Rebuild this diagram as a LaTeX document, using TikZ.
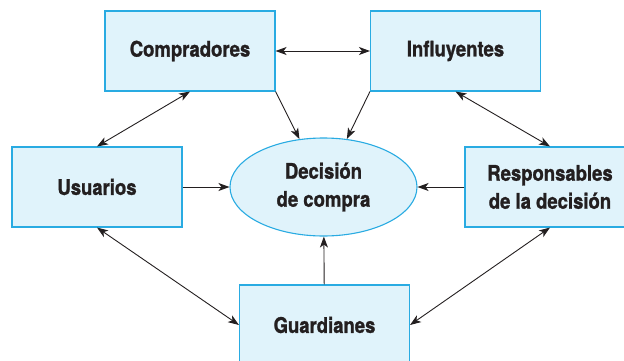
\documentclass[tikz,border=0pt]{standalone}
\usepackage{fontspec}
\setmainfont{TeX Gyre Heros}[FakeStretch=0.86, BoldFeatures={FakeBold=1.2}]
\usepackage{xcolor}
\usetikzlibrary{arrows.meta,shapes,positioning,calc}
\definecolor{boxfill}{HTML}{E0F3FB}
\definecolor{boxline}{HTML}{29ABE2}
\definecolor{arrowcol}{HTML}{231F20}

\begin{document}
\begin{tikzpicture}[x = 1pt, y = -1pt,
    role/.style = {draw = boxline, fill = boxfill, line width = 1.1pt, rectangle,
      minimum width = 170pt, minimum height = 80pt, inner sep = 0pt, align = center,
      font = \fontsize{21.5}{28}\selectfont\bfseries, text = arrowcol},
    decision/.style = {role, ellipse, minimum width = 187pt, minimum height = 98pt},
    link/.style = {->, >={Stealth[length = 11pt, width = 8pt, inset = 3pt]}, arrowcol, line width = .9pt},
    duallink/.style = {link, <->}]
    \useasboundingbox (0,0) rectangle (624,361);
    \clip (0,0) rectangle (624,361);
    \node[role] (comp) at (190,51) {Compradores};
    \node[role] (infl) at (455.5,51) {Influyentes};
    \node[role] (usu) at (97,187) {Usuarios};
    \node[role] (resp) at (550,187) {Responsables\\de la decisión};
    \node[role] (guard) at (324.5,325) {Guardianes};
    \node[decision] (dec) at (323.5,187) {Decisión\\de compra};
    \draw[duallink] (comp) -- (infl);
    \draw[duallink] (comp.south) -- (usu.north);
    \draw[duallink] (infl.south) -- (resp.north);
    \draw[duallink] (usu.south) -- (guard.west);
    \draw[duallink] (resp.south) -- (guard.east);
    \draw[link] (comp.south east) -- (dec);
    \draw[link] (infl.south west) -- (dec);
    \draw[link] (usu) -- (dec);
    \draw[link] (resp) -- (dec);
    \draw[link] (guard) -- (dec);
  \end{tikzpicture}
\end{document}
